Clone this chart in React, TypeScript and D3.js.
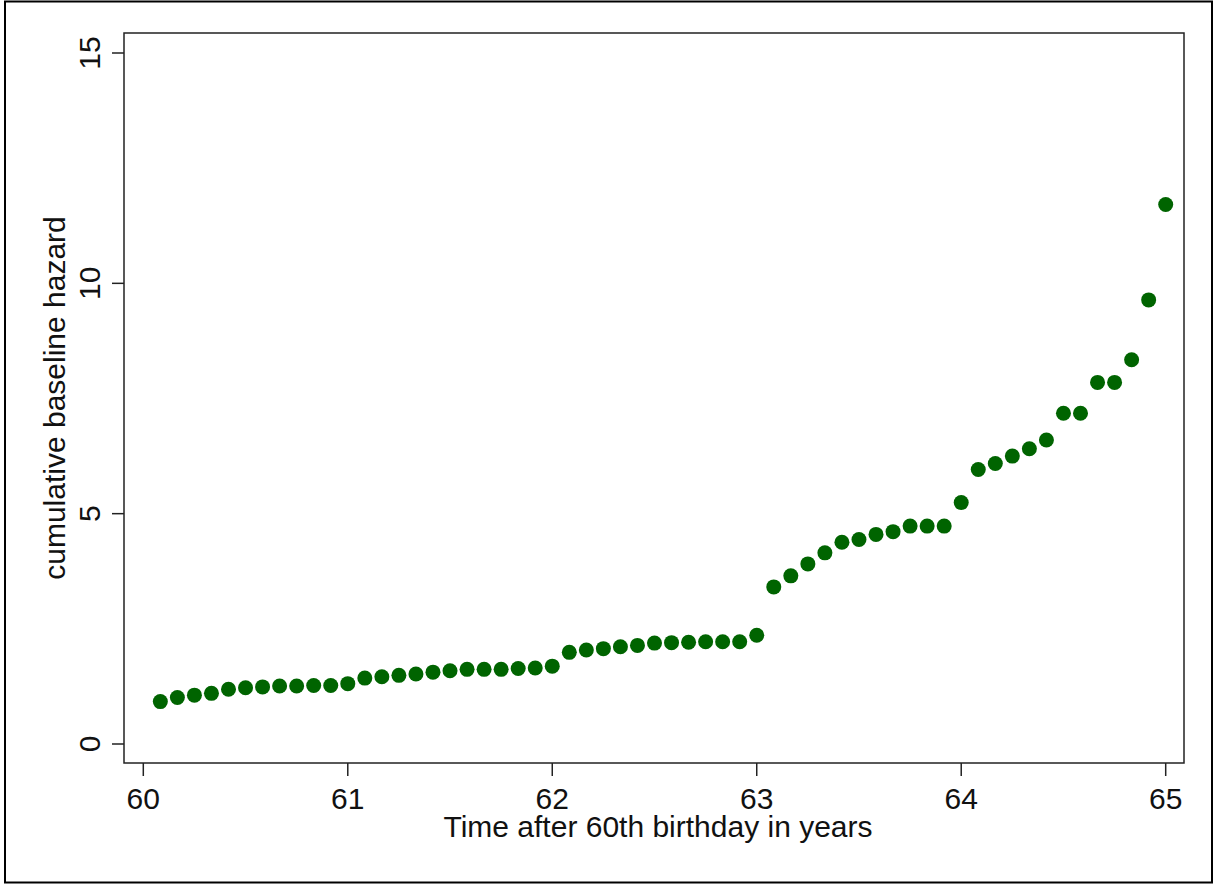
import React from "react";
import * as d3 from "d3";

const months: number[] = Array.from({ length: 60 }, (_, i) => i + 1);
const hazard: number[] = [
  0.92, 1.01, 1.06, 1.1, 1.19, 1.22, 1.24, 1.26, 1.26, 1.27, 1.27, 1.31,
  1.43, 1.46, 1.49, 1.52, 1.56, 1.59, 1.62, 1.62, 1.62, 1.64, 1.65, 1.69,
  1.99, 2.04, 2.07, 2.11, 2.14, 2.19, 2.2, 2.21, 2.22, 2.22, 2.22, 2.36,
  3.41, 3.65, 3.91, 4.15, 4.38, 4.44, 4.55, 4.61, 4.73, 4.73, 4.73, 5.24,
  5.96, 6.09, 6.25, 6.41, 6.6, 7.18, 7.18, 7.85, 7.85, 8.34, 9.64, 11.71,
];
const xTicks: number[] = [60, 61, 62, 63, 64, 65];
const yTicks: number[] = [0, 5, 10, 15];

const W = 1216;
const H = 884;
const box = { left: 124, top: 33, right: 1184, bottom: 763 };
const font = "'Liberation Sans', Arial, sans-serif";

export default function App() {
  const x = d3.scaleLinear().domain([60, 65]).range([143.3, 1165.7]);
  const y = d3.scaleLinear().domain([0, 15]).range([744, 53]);
  const pts = months.map((m, i) => ({ t: 60 + m / 12, v: hazard[i] }));
  return (
    <svg
      width={W}
      height={H}
      style={{ position: "absolute", left: 0, top: 0, background: "#fff" }}
    >
      <rect x={0} y={0} width={W} height={H} fill="#fff" />
      <rect x={5} y={1.5} width={1207} height={881} fill="none" stroke="#000" strokeWidth={2} />
      <rect
        x={box.left}
        y={box.top}
        width={box.right - box.left}
        height={box.bottom - box.top}
        fill="#fff"
        stroke="#222"
        strokeWidth={1.5}
      />
      {xTicks.map((t) => (
        <g key={"x" + t}>
          <line x1={x(t)} x2={x(t)} y1={box.bottom} y2={box.bottom + 13} stroke="#222" strokeWidth={1.5} />
          <text x={x(t)} y={809} textAnchor="middle" fontFamily={font} fontSize={30} fill="#111">
            {t}
          </text>
        </g>
      ))}
      {yTicks.map((t) => (
        <g key={"y" + t}>
          <line x1={box.left - 12} x2={box.left} y1={y(t)} y2={y(t)} stroke="#222" strokeWidth={1.5} />
          <text
            transform={`translate(100,${y(t)}) rotate(-90)`}
            textAnchor="middle"
            fontFamily={font}
            fontSize={30}
            fill="#111"
          >
            {t}
          </text>
        </g>
      ))}
      <text x={658} y={837} textAnchor="middle" fontFamily={font} fontSize={30} fill="#111">
        Time after 60th birthday in years
      </text>
      <text
        transform={`translate(65,${(box.top + box.bottom) / 2}) rotate(-90)`}
        textAnchor="middle"
        fontFamily={font}
        fontSize={30}
        fill="#111"
      >
        cumulative baseline hazard
      </text>
      {pts.map((p, i) => (
        <circle key={i} cx={x(p.t)} cy={y(p.v)} r={7.5} fill="#006400" />
      ))}
    </svg>
  );
}
